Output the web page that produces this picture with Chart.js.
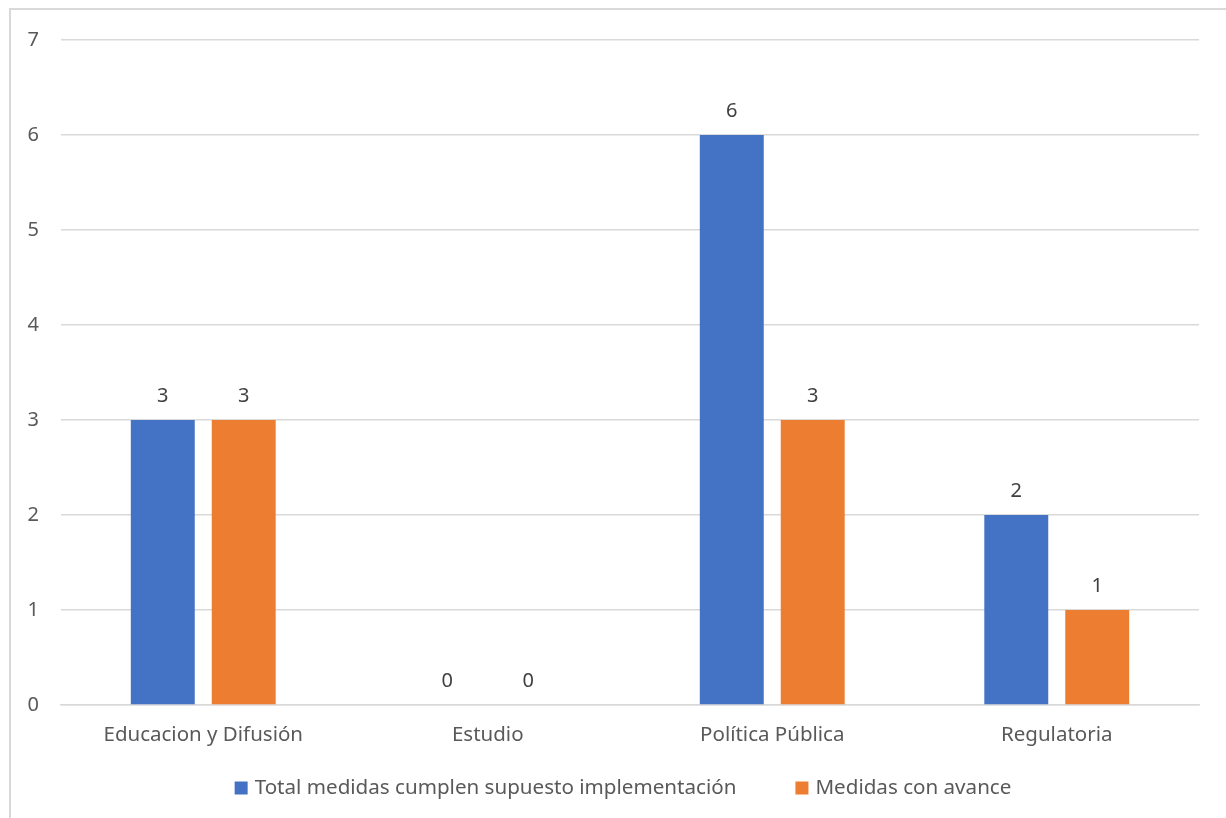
<!DOCTYPE html>
<html>
<head>
<meta charset="utf-8">
<script src="https://cdn.jsdelivr.net/npm/chart.js@4"></script>
<style>
  html, body { margin: 0; padding: 0; background: #fff; overflow: hidden; }
  #wrap { position: relative; width: 1226px; height: 818px; }
  #frame { position: absolute; left: 9px; top: 8px; width: 1300px; height: 900px;
           border-left: 2px solid #d9d9d9; border-top: 2px solid #d9d9d9; box-sizing: border-box; }
  canvas { position: absolute; left: 0; top: 0; }
</style>
</head>
<body>
<div id="wrap">
  <div id="frame"></div>
  <canvas id="c" width="1226" height="818"></canvas>
</div>
<script>
const categories = ["Educacion y Difusión", "Estudio", "Política Pública", "Regulatoria"];
const seriesNames = ["Total medidas cumplen supuesto implementación", "Medidas con avance"];
const totalMedidas = [3, 0, 6, 2];
const medidasAvance = [3, 0, 3, 1];
const yTicks = [0, 1, 2, 3, 4, 5, 6, 7];

const FONT = "'Noto Sans', sans-serif";

const valueLabels = {
  id: 'valueLabels',
  afterDatasetsDraw(chart) {
    const ctx = chart.ctx;
    ctx.save();
    ctx.font = "20px " + FONT;
    ctx.fillStyle = '#404040';
    ctx.textAlign = 'center';
    ctx.textBaseline = 'middle';
    chart.data.datasets.forEach((ds, i) => {
      chart.getDatasetMeta(i).data.forEach((bar, j) => {
        ctx.fillText(String(ds.data[j]), bar.x, bar.y - 24);
      });
    });
    ctx.restore();
  }
};

// Legend drawn from the datasets (spacing like the original Office legend)
const officeLegend = {
  id: 'officeLegend',
  afterDraw(chart) {
    const ctx = chart.ctx;
    ctx.save();
    ctx.font = "20.6px " + FONT;
    ctx.textBaseline = 'middle';
    ctx.textAlign = 'left';
    const box = 13, gapText = 7, gapItem = 59;
    const items = chart.data.datasets.map(ds => ({ text: ds.label, color: ds.backgroundColor, w: ctx.measureText(ds.label).width }));
    let total = 0;
    items.forEach((it, i) => { total += box + gapText + it.w + (i < items.length - 1 ? gapItem : 0); });
    let x = 623 - total / 2;
    const yc = 788;
    items.forEach(it => {
      ctx.fillStyle = it.color;
      ctx.fillRect(x, yc - box / 2, box, box);
      ctx.fillStyle = '#595959';
      ctx.fillText(it.text, x + box + gapText, yc);
      x += box + gapText + it.w + gapItem;
    });
    ctx.restore();
  }
};

new Chart(document.getElementById('c'), {
  type: 'bar',
  data: {
    labels: categories,
    datasets: [
      { label: seriesNames[0], data: totalMedidas, backgroundColor: '#4472C4',
        categoryPercentage: 0.569, barPercentage: 0.79 },
      { label: seriesNames[1], data: medidasAvance, backgroundColor: '#ED7D31',
        categoryPercentage: 0.569, barPercentage: 0.79 }
    ]
  },
  options: {
    responsive: false,
    animation: false,
    devicePixelRatio: 1,
    layout: { padding: { left: 0, right: 27, top: 40, bottom: 0 } },
    plugins: {
      tooltip: { enabled: false },
      legend: { display: false }
    },
    scales: {
      x: {
        grid: { display: false },
        border: { display: true, color: '#d9d9d9', width: 1.5 },
        ticks: { font: { family: FONT, size: 20.5 }, color: '#595959', padding: 10 },
        afterFit(scale) { scale.height = 113; }
      },
      y: {
        min: 0, max: 7,
        afterBuildTicks(scale) { scale.ticks = yTicks.map(v => ({ value: v })); },
        grid: { color: '#d9d9d9', lineWidth: 1.5, drawTicks: false },
        border: { display: false },
        ticks: { font: { family: FONT, size: 20 }, color: '#595959', padding: 22 },
        afterFit(scale) { scale.width = 61; }
      }
    }
  },
  plugins: [valueLabels, officeLegend]
});
</script>
</body>
</html>
